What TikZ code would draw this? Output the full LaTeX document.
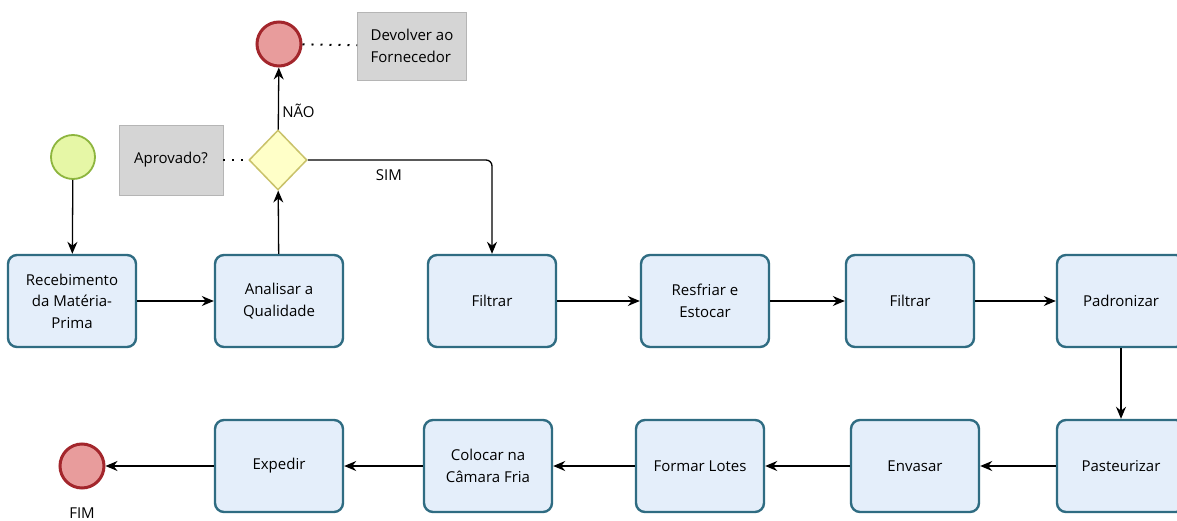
\documentclass[tikz,border=0pt]{standalone}
\usepackage{fontspec}
\setmainfont{Open Sans}
\usetikzlibrary{shapes.geometric,arrows.meta}
\definecolor{boxfill}{HTML}{E4EEFA}
\definecolor{boxline}{HTML}{2F6C82}
\definecolor{startfill}{HTML}{E6F7A6}
\definecolor{startline}{HTML}{8DB53E}
\definecolor{endfill}{HTML}{E89C9C}
\definecolor{endline}{HTML}{A3262C}
\definecolor{gatefill}{HTML}{FFFFC8}
\definecolor{gateline}{HTML}{C9C26A}
\definecolor{notefill}{HTML}{D5D5D5}

\begin{document}
\begin{tikzpicture}[x=1pt, y=-1pt, >={Stealth[length=12pt,width=10pt]}, line width=1.3pt,
    block/.style={draw=boxline, fill=boxfill, line width=2.4pt, rounded corners=9pt,
      minimum width=128pt, minimum height=92pt, align=center, font=\fontsize{15}{21.5}\selectfont},
    startev/.style={circle, draw=startline, fill=startfill, line width=1.8pt, minimum size=44pt},
    endev/.style={circle, draw=endline, fill=endfill, line width=3pt, minimum size=44pt},
    gate/.style={diamond, aspect=1, draw=gateline, fill=gatefill, line width=1.5pt, minimum width=58pt, minimum height=60pt, inner sep=0pt},
    note/.style={fill=notefill, draw=notefill!85!black, line width=0.6pt, align=left, font=\fontsize{15}{21.5}\selectfont},
    lbl/.style={font=\fontsize{15}{21.5}\selectfont},
    assoc/.style={line width=2pt, dash pattern=on 2pt off 7pt}]
  \path[use as bounding box, fill=white] (0,0) rectangle (1177,521);
  % top row
  \node[startev] (start) at (73,157) {};
  \node[block] (receb) at (72,301) {Recebimento\\da Matéria-\\Prima};
  \node[block] (anal) at (279,301) {Analisar a\\Qualidade};
  \node[gate] (ok) at (278,160) {};
  \node[endev] (volta) at (279,44) {};
  \node[note, minimum width=109pt, minimum height=68pt] (devol) at (412,46) {Devolver ao\\Fornecedor};
  \node[note, minimum width=104pt, minimum height=70pt] (aprov) at (171,160) {Aprovado?};
  \node[block] (filt1) at (492,301) {Filtrar};
  \node[block] (resf) at (705,301) {Resfriar e\\Estocar};
  \node[block] (filt2) at (910,301) {Filtrar};
  \node[block] (padr) at (1121,301) {Padronizar};
  % bottom row
  \node[block] (past) at (1121,466) {Pasteurizar};
  \node[block] (envas) at (915,466) {Envasar};
  \node[block] (lotes) at (700,466) {Formar Lotes};
  \node[block] (camara) at (488,466) {Colocar na\\Câmara Fria};
  \node[block] (exped) at (279,466) {Expedir};
  \node[endev] (fim) at (82,466) {};
  \node[lbl, anchor=base, inner sep=0pt] (fimtxt) at (82,518) {FIM};
  % connectors
  \draw[->] (start) -- (receb);
  \draw[->] (receb) -- (anal);
  \draw[->] (anal) -- (ok);
  \draw[->] (ok) -- node[lbl, right, pos=0.3] {NÃO} (volta);
  \draw[->, rounded corners=6pt] (ok.east) -| node[lbl, pos=0.22, below=6pt] {SIM} (filt1.north);
  \draw[assoc] (volta) -- (devol);
  \draw[assoc] (aprov) -- (ok);
  \draw[->] (filt1) -- (resf);
  \draw[->] (resf) -- (filt2);
  \draw[->] (filt2) -- (padr);
  \draw[->] (padr) -- (past);
  \draw[->] (past) -- (envas);
  \draw[->] (envas) -- (lotes);
  \draw[->] (lotes) -- (camara);
  \draw[->] (camara) -- (exped);
  \draw[->] (exped) -- (fim);
\end{tikzpicture}
\end{document}
